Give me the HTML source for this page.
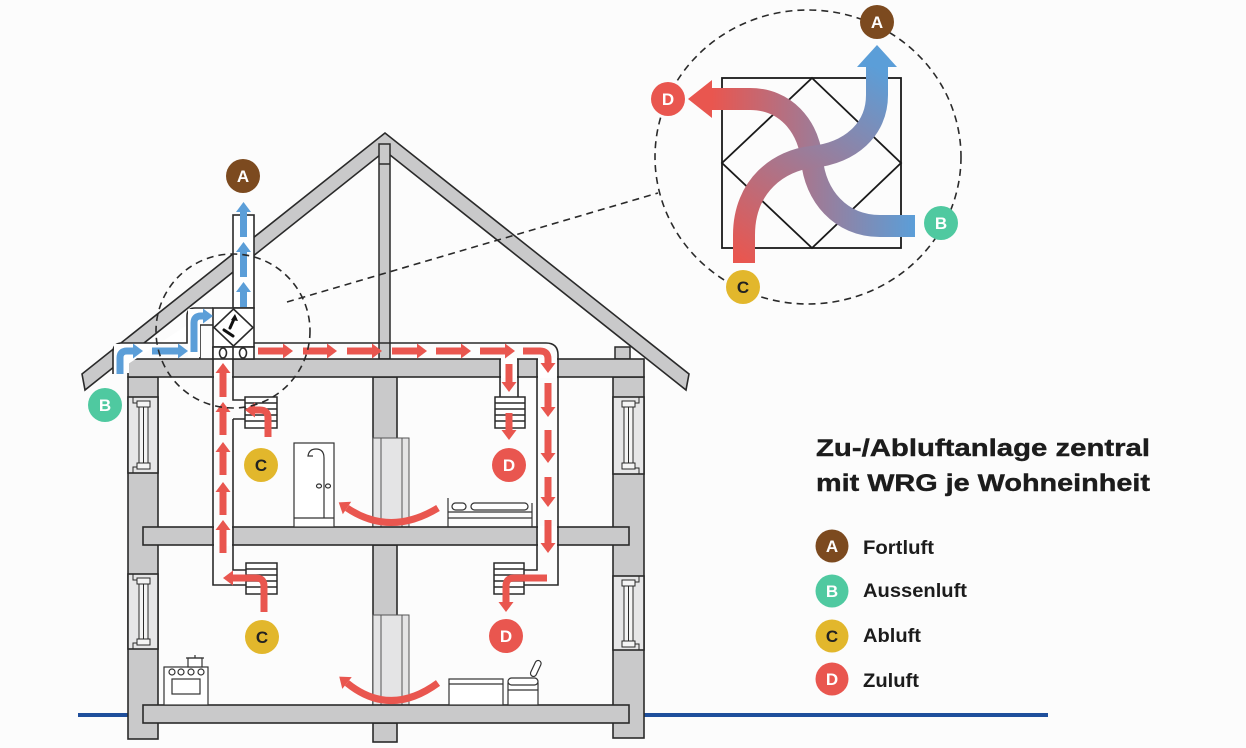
<!DOCTYPE html>
<html><head><meta charset="utf-8"><style>
html,body{margin:0;padding:0;background:#fcfcfc;}
svg{display:block;}
text{font-family:"Liberation Sans",Arial,sans-serif;font-weight:bold;}
</style></head><body>
<svg width="1246" height="748" viewBox="0 0 1246 748" xmlns="http://www.w3.org/2000/svg">
<defs>
<marker id="hr" markerUnits="userSpaceOnUse" markerWidth="12" markerHeight="16" refX="0" refY="7.5" orient="auto" overflow="visible"><path d="M0,0 L10,7.5 L0,15 z" fill="#e9564f"/></marker>
<marker id="hb" markerUnits="userSpaceOnUse" markerWidth="12" markerHeight="16" refX="0" refY="7.5" orient="auto" overflow="visible"><path d="M0,0 L10,7.5 L0,15 z" fill="#5b9ed8"/></marker>
<linearGradient id="gCA" gradientUnits="userSpaceOnUse" x1="744" y1="263" x2="877" y2="67"><stop offset="0" stop-color="#e9564f"/><stop offset="0.5" stop-color="#a07a95"/><stop offset="1" stop-color="#5b9ed8"/></linearGradient>
<linearGradient id="gBD" gradientUnits="userSpaceOnUse" x1="915" y1="0" x2="712" y2="0"><stop offset="0" stop-color="#5b9ed8"/><stop offset="0.5" stop-color="#a07a95"/><stop offset="1" stop-color="#e9564f"/></linearGradient>
</defs>
<rect width="1246" height="748" fill="#fcfcfc"/>

<!-- ground line -->
<rect x="78" y="713" width="52" height="4" fill="#1f4f9c"/>
<rect x="642" y="713" width="406" height="4" fill="#1f4f9c"/>

<!-- roof -->
<polygon points="82,374 385,133 689,374 686,390 385,151 85,390" fill="#c9c9ca" stroke="#2a2a2a" stroke-width="1.6" stroke-linejoin="miter"/>
<rect x="379" y="144" width="11" height="215" fill="#c9c9ca" stroke="#2a2a2a" stroke-width="1.5"/>
<line x1="379" y1="164" x2="390" y2="164" stroke="#2a2a2a" stroke-width="1.5"/>
<rect x="615" y="347" width="15" height="12" fill="#c9c9ca" stroke="#2a2a2a" stroke-width="1.5"/>

<!-- walls -->
<g stroke="#2a2a2a" stroke-width="1.6">
<rect x="128" y="377" width="30" height="362" fill="#c9c9ca"/>
<rect x="128" y="397" width="30" height="76" fill="#e6e6e7"/>
<rect x="128" y="574" width="30" height="75" fill="#e6e6e7"/>
<rect x="613" y="377" width="31" height="361" fill="#c9c9ca"/>
<rect x="613" y="397" width="31" height="77" fill="#e6e6e7"/>
<rect x="613" y="576" width="31" height="74" fill="#e6e6e7"/>
</g>
<g stroke="#2a2a2a" stroke-width="1" fill="#f4f4f4">
<rect x="139" y="404" width="9" height="62"/><line x1="143.5" y1="404" x2="143.5" y2="466"/>
<rect x="137" y="401" width="13" height="6"/><rect x="137" y="463" width="13" height="6"/>
<path d="M133,397 V403 H137" fill="none"/><path d="M133,473 V467 H137" fill="none"/>
<rect x="139" y="581" width="9" height="61"/><line x1="143.5" y1="581" x2="143.5" y2="642"/>
<rect x="137" y="578" width="13" height="6"/><rect x="137" y="639" width="13" height="6"/>
<path d="M133,574 V580 H137" fill="none"/><path d="M133,649 V643 H137" fill="none"/>
<rect x="624" y="404" width="9" height="62"/><line x1="628.5" y1="404" x2="628.5" y2="466"/>
<rect x="622" y="401" width="13" height="6"/><rect x="622" y="463" width="13" height="6"/>
<path d="M639,397 V403 H635" fill="none"/><path d="M639,474 V468 H635" fill="none"/>
<rect x="624" y="583" width="9" height="61"/><line x1="628.5" y1="583" x2="628.5" y2="644"/>
<rect x="622" y="580" width="13" height="6"/><rect x="622" y="641" width="13" height="6"/>
<path d="M639,576 V582 H635" fill="none"/><path d="M639,650 V644 H635" fill="none"/>
</g>

<!-- center column -->
<g stroke="#2a2a2a" stroke-width="1.6" fill="#c9c9ca">
<rect x="373" y="377" width="24" height="150"/>
<rect x="373" y="545" width="24" height="160"/>
<rect x="373" y="723" width="24" height="19"/>
</g>
<g stroke="#555" stroke-width="1" fill="#e4e4e5">
<rect x="373" y="438" width="36" height="89"/><line x1="381" y1="438" x2="381" y2="527"/><line x1="402" y1="438" x2="402" y2="527"/>
<rect x="373" y="615" width="36" height="90"/><line x1="381" y1="615" x2="381" y2="705"/><line x1="402" y1="615" x2="402" y2="705"/>
</g>

<!-- slabs -->
<g stroke="#2a2a2a" stroke-width="1.6" fill="#c9c9ca">
<rect x="128" y="359" width="516" height="18"/>
<rect x="143" y="527" width="486" height="18"/>
<rect x="143" y="705" width="486" height="18"/>
</g>

<!-- duct white cutouts through slabs -->
<g fill="#ffffff">
<rect x="214" y="358" width="18" height="20"/>
<rect x="214" y="526" width="18" height="20"/>
<rect x="538" y="358" width="19" height="20"/>
<rect x="538" y="526" width="19" height="20"/>
<rect x="501" y="358" width="16" height="20"/>
<rect x="233" y="215" width="21" height="93"/>
</g>

<!-- ducts -->
<g fill="none" stroke="#2a2a2a" stroke-width="1.6">
<rect x="233" y="215" width="21" height="93" fill="#fff"/>
<path d="M254,343 H546 Q558,343 558,355 V585 H524"/>
<path d="M537,359 V570 H524"/>
<path d="M500,359 V397 M518,359 V397"/>
<path d="M213,347 V585 H246"/>
<path d="M233,359 V400 H245 M233,419 H245 M233,419 V570 H246"/>
<path d="M113,374 V352 Q113,343 122,343 H187 V316 Q187,308 195,308 H213" fill="#fff"/>
<path d="M213,325 H200 V359"/>
</g>
<rect x="114" y="344" width="15" height="15" fill="#fff"/>
<rect x="188" y="309" width="12" height="48" fill="#fff"/>
<rect x="114" y="357" width="15" height="16" fill="#fff"/>

<!-- unit -->
<g stroke="#2a2a2a" stroke-width="1.6" fill="#fff">
<rect x="213" y="308" width="41" height="39"/>
<polygon points="233.5,309 253,327.5 233.5,346 214,327.5"/>
<rect x="213" y="347" width="41" height="12"/>
<line x1="233" y1="347" x2="233" y2="359"/>
<ellipse cx="223" cy="353" rx="3.5" ry="5"/>
<ellipse cx="243" cy="353" rx="3.5" ry="5"/>
</g>
<g stroke="#111" stroke-width="3" stroke-linecap="round">
<line x1="224" y1="330" x2="233" y2="336"/>
<line x1="230" y1="328" x2="234" y2="319"/>
</g>
<polygon points="231,320 238,321 235,314" fill="#111"/>

<!-- grilles -->
<g stroke="#2a2a2a" stroke-width="1.5" fill="#fff">
<rect x="245" y="397" width="32" height="31"/><path d="M245,403 H277 M245,409 H277 M245,415 H277 M245,421 H277"/>
<rect x="495" y="397" width="30" height="31"/><path d="M495,403 H525 M495,409 H525 M495,415 H525 M495,421 H525"/>
<rect x="246" y="563" width="31" height="31"/><path d="M246,569 H277 M246,575 H277 M246,581 H277 M246,587 H277"/>
<rect x="494" y="563" width="30" height="31"/><path d="M494,569 H524 M494,575 H524 M494,581 H524 M494,587 H524"/>
</g>

<!-- furniture -->
<g stroke="#333" stroke-width="1.2" fill="#fff">
<rect x="294" y="443" width="40" height="84"/>
<line x1="294" y1="518" x2="334" y2="518"/>
<line x1="324" y1="458" x2="324" y2="518"/>
<path d="M324,458 Q324,449 316,449 Q309,449 308,456 L313,456" fill="none"/>
<ellipse cx="319" cy="486" rx="2.5" ry="2"/><ellipse cx="328" cy="486" rx="2.5" ry="2"/>
<path d="M448,527 V498 M532,527 V503 M448,512 H532 M448,518 H532" fill="none"/>
<rect x="452" y="503" width="14" height="7" rx="3.5"/>
<rect x="471" y="503" width="57" height="7" rx="3.5"/>
<rect x="164" y="667" width="44" height="38"/>
<rect x="172" y="679" width="28" height="15"/>
<circle cx="172" cy="672" r="3"/><circle cx="181" cy="672" r="3"/><circle cx="191" cy="672" r="3"/><circle cx="201" cy="672" r="3"/>
<rect x="188" y="658" width="14" height="9"/>
<path d="M186,658 H204 M195,655 V658" fill="none"/>
<rect x="449" y="679" width="54" height="26"/>
<line x1="449" y1="684" x2="503" y2="684"/>
<rect x="508" y="683" width="30" height="22"/>
<rect x="508" y="678" width="30" height="7" rx="3.5"/>
<line x1="508" y1="690" x2="538" y2="690"/>
<rect x="533" y="660" width="6" height="17" rx="3" transform="rotate(25 536 668)"/>
</g>

<!-- red arrows -->
<g stroke="#e9564f" stroke-width="7" fill="none" marker-end="url(#hr)">
<line x1="258" y1="351" x2="283" y2="351"/>
<line x1="303" y1="351" x2="327" y2="351"/>
<line x1="347" y1="351" x2="372" y2="351"/>
<line x1="392" y1="351" x2="417" y2="351"/>
<line x1="436" y1="351" x2="461" y2="351"/>
<line x1="480" y1="351" x2="505" y2="351"/>
<path d="M523,351 H540 Q548,351 548,359 V363"/>
<line x1="548" y1="383" x2="548" y2="407"/>
<line x1="548" y1="430" x2="548" y2="453"/>
<line x1="548" y1="477" x2="548" y2="497"/>
<line x1="548" y1="520" x2="548" y2="543"/>
<line x1="223" y1="397" x2="223" y2="373"/>
<line x1="223" y1="435" x2="223" y2="412"/>
<line x1="223" y1="475" x2="223" y2="452"/>
<line x1="223" y1="515" x2="223" y2="492"/>
<line x1="223" y1="553" x2="223" y2="530"/>
<line x1="509" y1="364" x2="509" y2="382"/>
<line x1="509" y1="413" x2="509" y2="430"/>
<path d="M268,437 V418 Q268,410 260,410 H255"/>
<path d="M264,612 V586 Q264,578 256,578 H233"/>
<path d="M547,578 H514 Q506,578 506,586 V602"/>
<path d="M438,508 Q390,537 347,508"/>
<path d="M438,683 Q390,718 347,683"/>
</g>

<!-- blue arrows -->
<g stroke="#5b9ed8" stroke-width="7" fill="none" marker-end="url(#hb)">
<path d="M120,374 V358 Q120,351 127,351 H133"/>
<line x1="152" y1="351" x2="178" y2="351"/>
<path d="M194,352 V323 Q194,316 201,316 H203"/>
<line x1="243.5" y1="307" x2="243.5" y2="292"/>
<line x1="243.5" y1="277" x2="243.5" y2="252"/>
<line x1="243.5" y1="237" x2="243.5" y2="212"/>
</g>

<!-- dashed circle & connector -->
<g fill="none" stroke="#2a2a2a" stroke-width="1.6" stroke-dasharray="7,5">
<circle cx="233" cy="331" r="77"/>
<line x1="287" y1="302" x2="658" y2="193"/>
<ellipse cx="808" cy="157" rx="153" ry="147"/>
</g>

<!-- detail -->
<rect x="722" y="78" width="179" height="170" fill="none" stroke="#1a1a1a" stroke-width="1.8"/>
<polygon points="812,78 901,163 812,248 722,163" fill="none" stroke="#1a1a1a" stroke-width="1.8"/>
<path d="M915,226 L880,226 C840,226 815,195 812,160 C808,125 785,99 750,99 L712,99" fill="none" stroke="url(#gBD)" stroke-width="22"/>
<polygon points="712,80 712,118 688,99" fill="#e9564f"/>
<path d="M744,263 L744,235 C744,185 780,160 812,157 C850,153 877,130 877,95 L877,67" fill="none" stroke="url(#gCA)" stroke-width="22"/>
<polygon points="857,67 897,67 877,45" fill="#5b9ed8"/>

<!-- label circles -->
<g text-anchor="middle" font-size="17">
<circle cx="877" cy="22" r="17" fill="#7c4a1f"/><text x="877" y="28" fill="#fff">A</text>
<circle cx="668" cy="99" r="17" fill="#e9564f"/><text x="668" y="105" fill="#fff">D</text>
<circle cx="941" cy="223" r="17" fill="#4fc9a0"/><text x="941" y="229" fill="#fff">B</text>
<circle cx="743" cy="287" r="17" fill="#e2b72c"/><text x="743" y="293" fill="#222">C</text>
<circle cx="243" cy="176" r="17" fill="#7c4a1f"/><text x="243" y="182" fill="#fff">A</text>
<circle cx="105" cy="405" r="17" fill="#4fc9a0"/><text x="105" y="411" fill="#fff">B</text>
<circle cx="261" cy="465" r="17" fill="#e2b72c"/><text x="261" y="471" fill="#222">C</text>
<circle cx="509" cy="465" r="17" fill="#e9564f"/><text x="509" y="471" fill="#fff">D</text>
<circle cx="262" cy="637" r="17" fill="#e2b72c"/><text x="262" y="643" fill="#222">C</text>
<circle cx="506" cy="636" r="17" fill="#e9564f"/><text x="506" y="642" fill="#fff">D</text>
<circle cx="832" cy="546" r="16.5" fill="#7c4a1f"/><text x="832" y="552" fill="#fff">A</text>
<circle cx="832" cy="591" r="16.5" fill="#4fc9a0"/><text x="832" y="597" fill="#fff">B</text>
<circle cx="832" cy="636" r="16.5" fill="#e2b72c"/><text x="832" y="642" fill="#222">C</text>
<circle cx="832" cy="679" r="16.5" fill="#e9564f"/><text x="832" y="685" fill="#fff">D</text>
</g>

<!-- legend text -->
<g fill="#1c1c1c">
<text x="816" y="456" font-size="24" stroke="#1c1c1c" stroke-width="0.4" textLength="334" lengthAdjust="spacingAndGlyphs">Zu-/Abluftanlage zentral</text>
<text x="816" y="491" font-size="24" stroke="#1c1c1c" stroke-width="0.4" textLength="334" lengthAdjust="spacingAndGlyphs">mit WRG je Wohneinheit</text>
<text x="863" y="554" font-size="19" textLength="71" lengthAdjust="spacingAndGlyphs">Fortluft</text>
<text x="863" y="597" font-size="19" textLength="104" lengthAdjust="spacingAndGlyphs">Aussenluft</text>
<text x="863" y="642" font-size="19" textLength="58" lengthAdjust="spacingAndGlyphs">Abluft</text>
<text x="863" y="687" font-size="19" textLength="56" lengthAdjust="spacingAndGlyphs">Zuluft</text>
</g>
</svg>
</body></html>
